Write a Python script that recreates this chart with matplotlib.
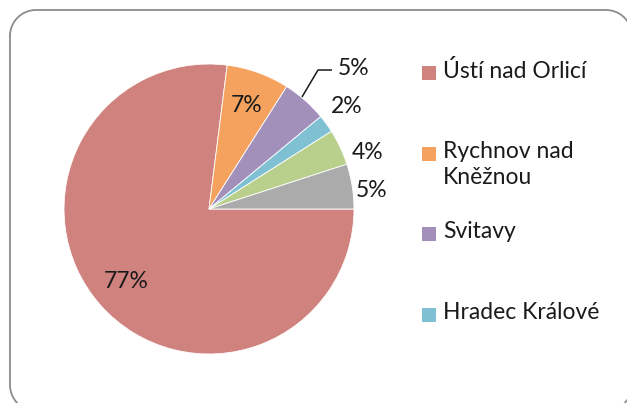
import matplotlib
matplotlib.use("Agg")
import matplotlib.pyplot as plt
import numpy as np
from matplotlib.patches import Rectangle
from matplotlib.lines import Line2D
from matplotlib.transforms import Affine2D

# ---- data ----
regions = ["Ústí nad Orlicí", "Rychnov nad\nKněžnou", "Svitavy", "Hradec Králové",
           "Pardubice", "Chrudim"]
shares = [77, 7, 5, 2, 4, 5]
pct_labels = ["77%", "7%", "5%", "2%", "4%", "5%"]
colors = ["#D0827F", "#F5A25E", "#A28FBA", "#7FC0D3", "#B9D08C", "#ABABAB"]
legend_count = 4  # only first four entries visible in the original

W, H = 627, 403
plt.rcParams['font.family'] = ['Lato', 'DejaVu Sans']
fig = plt.figure(figsize=(W / 100, H / 100), dpi=100)
# top-left pixel coordinates -> figure coordinates
pix = Affine2D().scale(1 / W, -1 / H).translate(0, 1) + fig.transFigure

# rounded border (partially outside image), built as a polyline
x0, y0, x1, y1, rr = 10, 10, 632, 411, 26
def arc(cxp, cyp, a0, a1):
    t = np.radians(np.linspace(a0, a1, 30))
    return cxp + rr * np.cos(t), cyp + rr * np.sin(t)
bx, by = [], []
for (ccx, ccy, a0, a1) in [(x0 + rr, y0 + rr, 180, 270), (x1 - rr, y0 + rr, 270, 360),
                           (x1 - rr, y1 - rr, 0, 90), (x0 + rr, y1 - rr, 90, 180)]:
    ax_, ay_ = arc(ccx, ccy, a0, a1)
    bx.extend(ax_); by.extend(ay_)
bx.append(bx[0]); by.append(by[0])
fig.lines.append(Line2D(bx, by, transform=pix, color="#8C8C8C", lw=1.3, zorder=5))

cx, cy, R = 209, 209, 145
ax = fig.add_axes([(cx - R) / W, (H - cy - R) / H, 2 * R / W, 2 * R / H])
wedges, _ = ax.pie(shares, colors=colors, startangle=0, counterclock=False,
                   radius=1, wedgeprops=dict(linewidth=0.6, edgecolor="white"))
ax.set_xlim(-1, 1)
ax.set_ylim(-1, 1)
ax.set_aspect("equal")
ax.axis("off")

FS = 16.5
# label placement (radius, angle in degrees) relative to pie
label_pos = [(0.76, None), (0.76, None), (1.39, 44.3), (1.18, 36.6), (1.16, 19.8), (1.13, 6.5)]
for w, lab, (r, ang) in zip(wedges, pct_labels, label_pos):
    if ang is None:
        ang = (w.theta1 + w.theta2) / 2
    x, y = r * np.cos(np.radians(ang)), r * np.sin(np.radians(ang))
    ax.text(x, y, lab, ha="center", va="center", fontsize=FS, color="#1a1a1a",
            clip_on=False)

# leader line for the purple slice label (pixel coords)
lx = [302, 318, 332]
ly = [97, 70, 70]
ax.plot([(v - cx) / R for v in lx], [(cy - v) / R for v in ly], color="#1a1a1a",
        lw=1.1, clip_on=False, solid_capstyle="butt")

# legend (manual)
leg_y = [73, 153.5, 234, 315]
for i in range(legend_count):
    y = leg_y[i]
    sq = Rectangle((422, y - 7), 14, 14, facecolor=colors[i], edgecolor="none",
                   transform=pix)
    fig.patches.append(sq)
    fig.text(443 / W, 1 - (y - 13) / H, regions[i], ha="left", va="top", fontsize=FS,
             color="#1a1a1a", linespacing=1.3)

fig.savefig("out.png", dpi=100)
